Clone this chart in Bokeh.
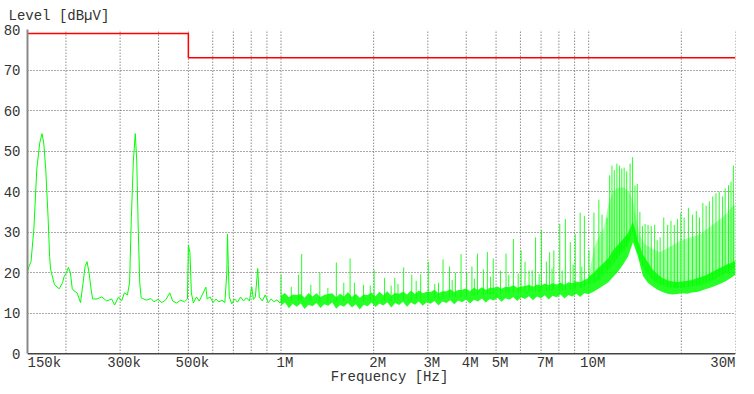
from bokeh.plotting import figure
from bokeh.models import FixedTicker, Range1d, Label, Span
from bokeh.embed import file_html
from bokeh.resources import INLINE

FONT = "Liberation Mono"
TXT = "#333333"
GREEN = "#00ff00"
FS = "14px"

# ---------------- data ----------------
limit_f = [0.15e6, 0.5e6, 0.5e6, 30e6]
limit_db = [79, 79, 73, 73]

# measured trace, 150 kHz - 1 MHz (kHz, dBuV)
low_f_khz = [150, 151.7, 154, 157.4, 160.8, 164.4, 167.2, 169.4, 171.9, 175.0, 177.0, 178.3,
             183.6, 190.2, 194.9, 197.3, 200.7, 203.7, 206.7, 209.7, 212.4, 217.5, 223, 227.4,
             230.8, 234.3, 237.7, 241.3, 244.2, 252.2, 261.6, 271.4, 281.5, 287.9, 296.4, 303.2,
             309.9, 316.8, 322, 326.3, 331.2, 336, 339.8, 343.5, 347.4, 351.2, 364.4, 378,
             386.5, 398.1, 410.1, 422, 435, 444.6, 457.8, 471.6, 485.7, 496.5, 500, 505.8,
             511.4, 518.9, 531, 542.3, 554.4, 570, 575.3, 588.2, 601.4, 614.9, 628.7, 642.7,
             657, 666.7, 670, 674, 679, 691.6, 707, 722.8, 739, 755.5, 772.4, 789.6,
             803, 813.3, 825.4, 840, 850, 869, 888.6, 908.4, 928.7, 949.5, 970.7, 992.4, 1000]
low_db = [20.3, 21.5, 22.7, 31, 45.6, 52, 54.3, 52, 45.6, 33.6, 24, 20.8,
          17, 16, 17.5, 19, 20, 21.3, 20, 16, 15.5, 15, 12.6, 17.5,
          21.5, 22.7, 20, 16, 13.5, 13.5, 14, 13, 13.5, 12, 14, 13,
          15, 14.5, 17.5, 33.6, 47.5, 54.3, 47.5, 31, 17.5, 13.8, 13.2, 13.6,
          12.8, 13.4, 12.6, 13.3, 15, 13, 12.5, 13.2, 12.8, 13.5, 26.7, 25,
          15, 12.5, 14, 13, 14.5, 16.4, 13.5, 14, 12.6, 13.5, 12.8, 13.2,
          12.6, 20, 29.5, 22, 14, 12.3, 13.5, 12.7, 14, 13, 13.8, 13,
          16.5, 13.4, 14, 21, 14, 13, 14.5, 12.6, 13.5, 12.8, 13.3, 12.5, 13]

# noise floor band, 1 MHz - 30 MHz (MHz, dBuV low / high)
floor_f_mhz = [1.000, 1.030, 1.061, 1.092, 1.125, 1.159, 1.193, 1.229, 1.266, 1.304,
               1.343, 1.383, 1.424, 1.467, 1.511, 1.556, 1.602, 1.650, 1.700, 1.750,
               1.803, 1.857, 1.912, 1.969, 2.028, 2.089, 2.151, 2.215, 2.282, 2.350,
               2.420, 2.492, 2.567, 2.644, 2.723, 2.804, 2.888, 2.975, 3.064, 3.155,
               3.250, 3.347, 3.447, 3.550, 3.656, 3.765, 3.878, 3.994, 4.114, 4.237,
               4.363, 4.494, 4.628, 4.767, 4.909, 5.056, 5.207, 5.363, 5.523, 5.688,
               5.859, 6.034, 6.214, 6.400, 6.592, 6.789, 6.992, 7.201, 7.416, 7.638,
               7.866, 8.102, 8.344, 8.593, 8.850, 9.115, 9.387, 9.668, 9.957,
               10.0, 10.37, 10.76, 11.17, 11.59, 12.02, 12.47, 12.94, 13.43, 13.93, 14.45,
               15.0, 15.56, 16.14, 16.75, 17.38, 18.03, 18.70, 19.41, 20.13, 20.89,
               21.67, 22.49, 23.33, 24.21, 25.11, 26.06, 27.03, 28.05, 29.10, 30.0]
floor_lo = [11.8, 12.6, 11.2, 12.3, 11.6, 12.4, 11.0, 12.1, 11.7, 12.5,
            11.3, 12.2, 11.8, 12.6, 11.1, 12.0, 11.6, 12.5, 11.4, 12.2,
            10.9, 12.1, 11.7, 12.6, 11.5, 12.4, 11.9, 12.7, 11.4, 12.5,
            12.0, 12.8, 11.6, 12.6, 12.1, 12.9, 11.8, 12.7, 12.3, 13.0,
            11.9, 12.9, 12.5, 13.2, 12.2, 13.1, 12.7, 13.4, 12.4, 13.3,
            12.9, 13.6, 12.6, 13.5, 13.1, 13.8, 12.8, 13.7, 13.3, 14.0,
            13.0, 13.9, 13.5, 14.2, 13.2, 14.1, 13.7, 14.4, 13.4, 14.3,
            13.9, 14.6, 13.6, 14.5, 14.1, 14.8, 14.0, 14.9, 14.7,
            14.7, 15.3, 16.0, 16.8, 17.6, 19.0, 20.3, 22.0, 24.0, 27.5, 24.0,
            19.2, 17.5, 16.6, 15.8, 15.2, 14.8, 14.6, 14.7, 14.9, 14.8,
            15.1, 15.2, 15.6, 16.0, 16.4, 16.9, 17.4, 18.0, 18.8, 19.5]
floor_hi = [14.3, 15.0, 13.9, 14.6, 14.5, 14.7, 13.8, 15.0, 14.1, 14.9,
            14.0, 14.5, 14.7, 14.9, 13.9, 14.8, 14.1, 15.2, 14.0, 14.8,
            13.8, 14.6, 14.5, 15.1, 14.2, 15.3, 14.4, 15.4, 14.3, 15.0,
            14.8, 15.3, 14.6, 15.5, 14.7, 15.6, 14.9, 15.3, 15.2, 15.8,
            14.9, 15.4, 15.4, 15.9, 15.2, 15.7, 15.8, 16.1, 15.4, 16.3,
            15.7, 16.4, 15.8, 16.2, 16.3, 16.6, 16.0, 16.5, 16.4, 16.9,
            16.3, 16.6, 16.7, 17.0, 16.5, 17.1, 16.8, 17.3, 16.9, 17.4,
            17.1, 17.5, 17.0, 17.6, 17.4, 17.8, 17.6, 18.2, 18.6,
            19.0, 20.0, 21.2, 22.4, 23.6, 25.6, 26.9, 28.3, 29.8, 32.6, 28.0,
            24.5, 22.6, 20.8, 19.6, 18.6, 18.1, 17.8, 17.7, 17.8, 18.0,
            18.2, 18.6, 19.0, 19.5, 20.1, 20.8, 21.3, 22.0, 22.4, 23.0]

# dense harmonic region, 10 MHz - 30 MHz (MHz, dBuV low / high)
dense_f_mhz = [10.0, 10.4, 10.8, 11.2, 11.6, 12.0, 12.5, 13.0, 13.5, 13.9, 14.3, 14.7, 15.2,
               16.0, 17.0, 18.0, 19.0, 20.0, 21.0, 22.0, 23.0, 24.0, 25.0, 26.0, 27.0,
               28.0, 29.0, 30.0]
dense_lo = [17, 17.5, 18.5, 19.5, 20.5, 22, 24, 25.5, 27.5, 30, 26, 23, 20.5,
            18.5, 17, 16.5, 16.2, 16.3, 16.4, 16.7, 17, 17.5, 18.2, 18.6, 19.3,
            20, 20.6, 21]
dense_hi = [19, 26, 29, 31, 37, 40, 41, 41, 40, 38, 33, 29, 27,
            26, 25, 26, 27, 28, 28.5, 29, 29.5, 30.5, 31.5, 32.5, 33.5,
            34.5, 36, 37]

# discrete emission peaks (MHz, base dBuV, peak dBuV)
spike_f_mhz = [1.00, 1.139, 1.167, 1.337, 1.513, 1.677, 1.732, 1.855, 2.007, 2.171,
               2.280, 2.343, 2.504, 2.661, 2.844, 3.010, 3.160, 3.362, 3.529, 3.688,
               3.847, 4.011, 4.173, 4.350, 4.548, 4.684, 4.895, 5.166, 5.387, 5.693,
               6.029, 6.209, 6.553, 6.719, 7.021, 7.285, 7.464, 7.705, 8.054, 8.399,
               8.714, 9.041, 9.381, 9.682, 10.02, 10.40, 10.79, 11.05, 11.47, 11.70,
               11.90, 12.11, 12.35, 12.60, 12.81, 13.04, 13.29, 13.63, 13.89, 14.14,
               14.38, 14.67, 14.95, 15.25, 15.59, 15.97, 16.38, 16.70, 17.07, 17.54,
               18.06, 18.51, 18.98, 19.45, 19.93, 20.43, 21.09, 21.73, 22.37, 22.92,
               23.50, 24.08, 24.67, 25.30, 25.92, 26.56, 27.24, 27.77, 28.47, 29.01, 29.53,
               1.08, 1.25, 1.42, 1.60, 1.95, 2.40, 2.75, 3.25, 3.60, 4.25, 4.80, 5.50,
               5.90, 6.40, 6.90, 7.60, 8.20, 8.90, 9.50]
spike_base = [13, 13, 13, 12.8, 12.8, 13, 13, 12.8, 13, 13,
              13, 13.2, 13.2, 13.2, 13.5, 13.6, 13.6, 13.8, 14, 14,
              14, 14.2, 14.4, 14.5, 14.5, 14.6, 14.7, 14.8, 15, 15,
              15.2, 15.2, 15.3, 15.4, 15.5, 15.5, 15.6, 15.7, 15.5, 15.6,
              15.8, 16, 16.2, 16.5, 17, 17.5, 18.5, 19.5, 20.5, 21,
              22, 22.5, 23.5, 24.5, 25, 25.5, 26.5, 28, 30, 27,
              25, 23, 21.5, 20.5, 19.5, 18.5, 18, 17.5, 17, 16.8,
              16.5, 16.3, 16.2, 16.2, 16.3, 16.3, 16.4, 16.6, 16.8, 17,
              17.3, 17.6, 18, 18.3, 18.6, 19, 19.4, 19.8, 20.2, 20.6, 21,
              13, 13, 13, 13, 13, 13.3, 13.5, 13.8, 14, 14.3, 14.6, 15,
              15.1, 15.3, 15.4, 15.6, 15.6, 15.9, 16.2]
spike_peak = [19.5, 19.5, 24.6, 20, 22.5, 23.5, 17.5, 17, 20.7, 18.7,
              16.8, 18.7, 21.3, 19.5, 19.6, 22.7, 17.2, 23.3, 21.5, 20,
              24.6, 20, 21.5, 24.7, 20.8, 25.1, 23.5, 20.5, 24.7, 28.3,
              25.5, 22.7, 20.6, 28.7, 30.5, 22.7, 25, 25.5, 32, 33.2,
              27.5, 29.5, 34.8, 34, 25.5, 34.8, 38, 34.3, 33.5, 44,
              46.4, 45.3, 46.9, 46.4, 45.7, 45.9, 45, 46.9, 48.5, 41.5,
              41.9, 35, 31.5, 32, 31.8, 31.5, 31.8, 28, 28.7, 33.6,
              31.8, 32.8, 31.8, 33.2, 34.8, 33.6, 36, 34.3, 35.2, 33.6,
              37.2, 36.5, 37.6, 38.8, 39.6, 40, 38.8, 40.8, 41.6, 42.4, 46.4,
              16.5, 17, 16.2, 17.5, 16.8, 17.2, 18, 17.5, 18.2, 18.5, 19, 19.5,
              19.8, 20.5, 19.6, 21, 20.5, 22, 21.5]

grid_f = [200e3, 300e3, 400e3, 500e3, 600e3, 700e3, 800e3, 900e3,
          1e6, 2e6, 3e6, 4e6, 5e6, 6e6, 7e6, 8e6, 9e6, 10e6, 20e6, 30e6]
tick_f = [150e3, 300e3, 500e3, 1e6, 2e6, 3e6, 4e6, 5e6, 7e6, 10e6, 30e6]
tick_labels = ["150k", "300k", "500k", "1M", "2M", "3M", "4M", "5M", "7M", "10M", "30M"]
level_ticks = [0, 10, 20, 30, 40, 50, 60, 70, 80]
grid_levels = [10, 20, 30, 40, 50, 60, 70, 80]
f_min, f_max = 150e3, 30e6
level_min, level_max = 0, 80

# ---------------- figure ----------------
# the frame extends below 0 dBuV so the frequency labels live inside it
p = figure(width=738, height=386, x_axis_type="log", x_axis_location=None,
           x_range=Range1d(f_min, f_max), y_range=Range1d(-8.1, level_max),
           output_backend="svg", toolbar_location=None,
           min_border_left=19, min_border_right=3, min_border_top=27, min_border_bottom=0)
p.outline_line_color = None
p.background_fill_color = "white"

p.title.text = "Level [dBµV]"
p.title.align = "left"
p.title.offset = -19
p.title.standoff = 11
p.title.text_font = FONT
p.title.text_font_size = FS
p.title.text_font_style = "normal"
p.title.text_color = TXT

# horizontal grid
p.ygrid.ticker = FixedTicker(ticks=grid_levels)
p.ygrid.grid_line_color = "#555555"
p.ygrid.grid_line_dash = "1 2"
p.ygrid.grid_line_width = 1
p.xgrid.visible = False

# vertical grid (stops at the 0 dB axis)
p.segment(x0=grid_f, y0=[level_min] * len(grid_f), x1=grid_f, y1=[level_max] * len(grid_f),
          line_color="#555555", line_dash="1 2", line_width=1)

# y axis
p.yaxis.ticker = FixedTicker(ticks=level_ticks)
p.yaxis.bounds = (level_min, level_max)
p.yaxis.major_tick_line_color = None
p.yaxis.minor_tick_line_color = None
p.yaxis.axis_line_color = "#8a8a8a"
p.yaxis.axis_line_width = 2
p.yaxis.major_label_standoff = 1
p.yaxis.major_label_text_font = FONT
p.yaxis.major_label_text_font_size = FS
p.yaxis.major_label_text_color = TXT

# traces
hz = lambda v, k: [x * k for x in v]
p.varea(x=hz(dense_f_mhz, 1e6), y1=dense_lo, y2=dense_hi, fill_color="#8cff8c", fill_alpha=0.75)
p.segment(x0=hz(spike_f_mhz, 1e6), y0=spike_base, x1=hz(spike_f_mhz, 1e6), y1=spike_peak,
          line_color=GREEN, line_width=1, line_alpha=0.85)
p.varea(x=hz(floor_f_mhz, 1e6), y1=floor_lo, y2=floor_hi, fill_color=GREEN, fill_alpha=0.85)
p.line(hz(low_f_khz, 1e3), low_db, line_color=GREEN, line_width=1)
p.line(limit_f, limit_db, line_color="#ff0000", line_width=1.5)

# bottom axis line at 0 dBuV
p.add_layout(Span(location=level_min, dimension="width", line_color="#444444", line_width=1.5))

# frequency tick labels
for f, t in zip(tick_f, tick_labels):
    if f == tick_f[0]:
        align, off = "left", 0
    elif f == tick_f[-1]:
        align, off = "right", 0
    else:
        align, off = "center", 4
    p.add_layout(Label(x=f, y=-2.3, text=t, text_align=align, text_baseline="middle",
                       x_offset=off, text_font=FONT, text_font_size=FS, text_color=TXT))

p.add_layout(Label(x=(f_min * f_max) ** 0.5, y=-5.8, text="Frequency [Hz]", text_align="center",
                   text_baseline="middle", x_offset=8, text_font=FONT, text_font_size=FS,
                   text_color=TXT))

open("out.html", "w").write(file_html(p, INLINE))
